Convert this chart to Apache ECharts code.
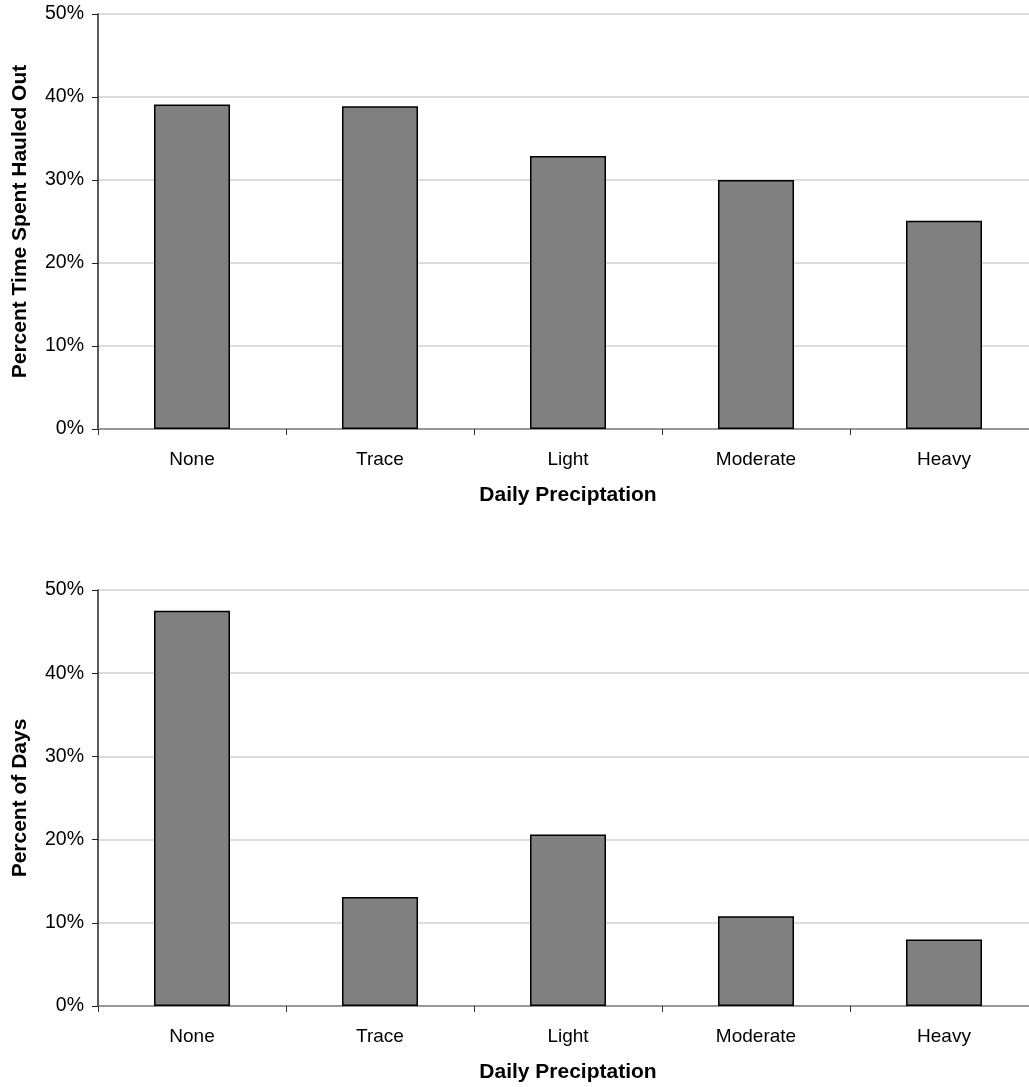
<!DOCTYPE html>
<html>
<head>
<meta charset="utf-8">
<style>
html,body{margin:0;padding:0;background:#fff;}
#chart{width:1029px;height:1087px;}
</style>
<script src="https://cdn.jsdelivr.net/npm/echarts@6/dist/echarts.min.js"></script>
</head>
<body>
<div id="chart"></div>
<script>
const categories = ['None', 'Trace', 'Light', 'Moderate', 'Heavy'];
const haulOutPct = [39.1, 38.9, 32.9, 30.0, 25.1];
const daysPct = [47.5, 13.1, 20.6, 10.8, 8.0];
const yTitleTop = 'Percent Time Spent Hauled Out';
const yTitleBottom = 'Percent of Days';
const xTitle = 'Daily Preciptation';

const FONT = '"Liberation Sans", Arial, sans-serif';
const chart = echarts.init(document.getElementById('chart'), null, {renderer: 'canvas'});

function xAxisFor(gridIndex) {
  return {
    type: 'category', gridIndex, data: categories,
    boundaryGap: true,
    axisLine: {show: true, lineStyle: {color: '#808080', width: 1.5}},
    axisTick: {show: true, length: 6, lineStyle: {color: '#333', width: 1}},
    axisLabel: {color: '#000', fontFamily: FONT, fontSize: 19, margin: 21},
    name: xTitle, nameLocation: 'middle', nameGap: 56,
    nameTextStyle: {color: '#000', fontFamily: FONT, fontSize: 21, fontWeight: 'bold'}
  };
}
function yAxisFor(gridIndex, title) {
  return {
    type: 'value', gridIndex, min: 0, max: 50, interval: 10,
    axisLine: {show: true, lineStyle: {color: '#222', width: 1.5}},
    axisTick: {show: true, length: 6, lineStyle: {color: '#222', width: 1}},
    axisLabel: {color: '#000', fontFamily: FONT, fontSize: 19.5, margin: 14, formatter: '{value}%'},
    splitLine: {show: true, lineStyle: {color: '#d0d0d0', width: 1.5}},
    name: title, nameLocation: 'middle', nameGap: 67,
    nameTextStyle: {color: '#000', fontFamily: FONT, fontSize: 21, fontWeight: 'bold'}
  };
}
function barSeries(idx, data) {
  return {
    type: 'bar', xAxisIndex: idx, yAxisIndex: idx, data,
    barWidth: 76,
    itemStyle: {color: '#808080', borderColor: '#000', borderWidth: 1.5},
    silent: true
  };
}

chart.setOption({
  animation: false,
  backgroundColor: '#fff',
  grid: [
    {left: 98, top: 14, width: 940, height: 415, outerBoundsMode: 'none', containLabel: false},
    {left: 98, top: 590, width: 940, height: 416, outerBoundsMode: 'none', containLabel: false}
  ],
  xAxis: [xAxisFor(0), xAxisFor(1)],
  yAxis: [yAxisFor(0, yTitleTop), yAxisFor(1, yTitleBottom)],
  series: [barSeries(0, haulOutPct), barSeries(1, daysPct)]
});
</script>
</body>
</html>
